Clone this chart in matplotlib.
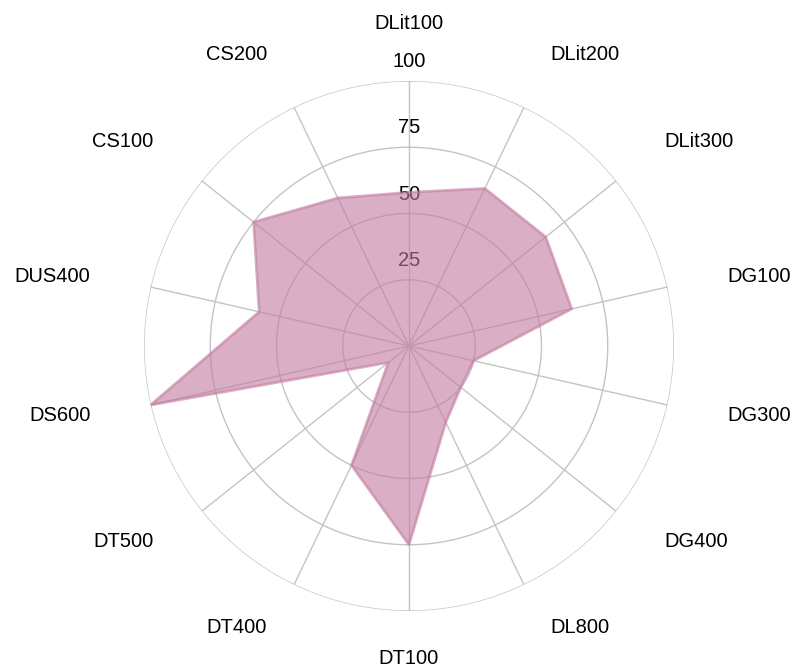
# Radar plot of the test scores

import numpy as np
import matplotlib.pyplot as plt

categories = ['DLit100', 'DLit200', 'DLit300', 'DG100', 'DG300', 'DG400', 'DL800',
              'DT100', 'DT400', 'DT500', 'DS600', 'DUS400', 'CS100', 'CS200']
values = [58, 66, 66, 63, 25, 25, 32, 75, 50, 10, 100, 58, 75, 62]
r_ticks = [25, 50, 75, 100]

fill_color = '#C27BA0'
grid_color = '#C4C4C4'

plt.rcParams['font.family'] = ['Liberation Sans', 'DejaVu Sans']


def plot_radar(categories, values, r_ticks):
    """Draw the radar chart and save it to out.png"""
    n = len(categories)
    angles = np.arange(n) * 2 * np.pi / n
    closed_angles = np.append(angles, angles[0])
    closed_values = np.append(values, values[0])

    fig = plt.figure(figsize=(7.95, 6.69), dpi=100)
    ax = fig.add_axes([0.1811, 0.0867, 0.6667, 0.7922], projection='polar')
    ax.set_theta_zero_location('N')
    ax.set_theta_direction(-1)
    ax.set_ylim(0, 100)
    ax.spines['polar'].set_visible(False)
    ax.grid(False)
    ax.set_xticks([])
    ax.set_yticks([])

    # circles and spokes
    t = np.linspace(0, 2 * np.pi, 400)
    for v in r_ticks:
        ax.plot(t, np.full_like(t, v), color=grid_color, lw=1, zorder=1)
    for a in angles:
        ax.plot([a, a], [0, 100], color=grid_color, lw=1, zorder=1)

    # radial tick labels, sitting under the fill
    for v in r_ticks:
        ax.annotate(str(v), xy=(0, v), xytext=(0, 14), textcoords='offset points',
                    ha='center', va='center', fontsize=14.5, color='black', zorder=2)

    ax.fill(closed_angles, closed_values, color=fill_color, alpha=0.6, lw=0, zorder=3)
    ax.plot(closed_angles, closed_values, color=fill_color, alpha=0.6, lw=2, zorder=4)

    # category labels around the outside
    for a, name in zip(angles, categories):
        s, c = np.sin(a), np.cos(a)
        ha = 'center' if abs(s) < 0.01 else ('left' if s > 0 else 'right')
        va = 'bottom' if c > 0.3 else 'center'
        ax.annotate(name, xy=(a, 100), xytext=(44.5 * s, 34.5 * c),
                    textcoords='offset points', ha=ha, va=va,
                    fontsize=14.5, color='black', annotation_clip=False)

    fig.savefig('out.png', dpi=100)


plot_radar(categories, values, r_ticks)
